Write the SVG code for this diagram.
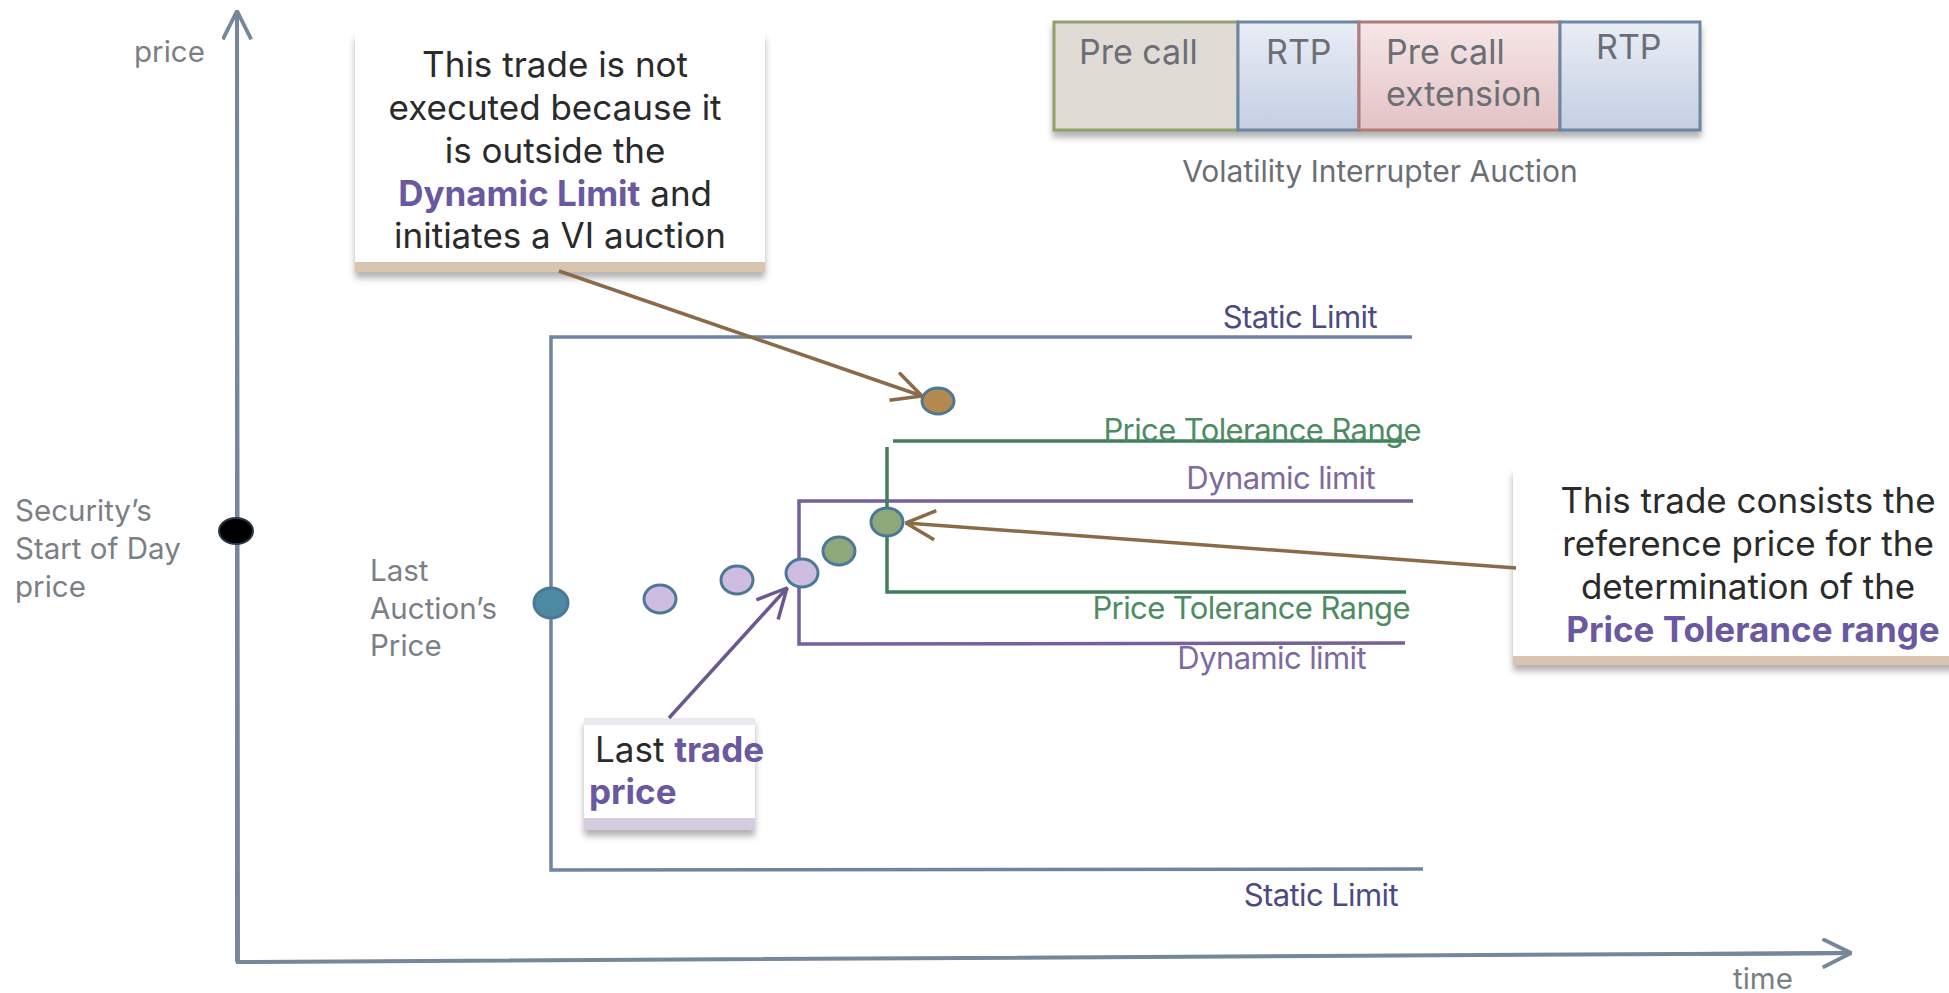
<svg xmlns="http://www.w3.org/2000/svg" width="1949" height="993" viewBox="0 0 1949 993">
<defs>
<style>
.t{font-family:Inter,"Liberation Sans",sans-serif}
.grey{fill:#7a7f86;font-size:29.5px}
.dark{fill:#2a2a2a;font-size:35px}
.bold{font-weight:700;fill:#6a58a0}
.box{font-size:34px;fill:#6b6f75}
.axis{stroke:#74879b;stroke-width:4;fill:none}
.static{stroke:#6f84a0;stroke-width:3.5;fill:none}
.dyn{stroke:#74609a;stroke-width:3.5;fill:none}
.ptr{stroke:#3f7f5b;stroke-width:3.5;fill:none}
.lblStatic{fill:#4c4a84;font-size:31px;letter-spacing:-0.6px}
.lblDyn{fill:#7d6ba0;font-size:31px;letter-spacing:-0.6px}
.lblPtr{fill:#4d8c63;font-size:31px;letter-spacing:-0.6px}
.dotS{stroke:#4d7895;stroke-width:3}
</style>
<filter id="shadow" x="-10%" y="-10%" width="120%" height="130%">
<feDropShadow dx="0" dy="6" stdDeviation="3" flood-color="#555" flood-opacity="0.45"/>
</filter>
<linearGradient id="gBlue" x1="0" y1="0" x2="0" y2="1">
<stop offset="0" stop-color="#e9edf6"/><stop offset="1" stop-color="#c4cfe2"/>
</linearGradient>
<linearGradient id="gRed" x1="0" y1="0" x2="0" y2="1">
<stop offset="0" stop-color="#f6e7e7"/><stop offset="1" stop-color="#e3c2c4"/>
</linearGradient>
<marker id="axHead" viewBox="0 0 12 12" refX="11.5" refY="6" markerWidth="31" markerHeight="31" markerUnits="userSpaceOnUse" orient="auto">
<path d="M0.5,0.5 L11.5,6 L0.5,11.5" fill="none" stroke="#74879b" stroke-width="1.5"/>
</marker>
<marker id="brHead" viewBox="0 0 12 12" refX="11.5" refY="6" markerWidth="32" markerHeight="32" markerUnits="userSpaceOnUse" orient="auto">
<path d="M0.5,0.5 L11.5,6 L0.5,11.5" fill="none" stroke="#8b6a47" stroke-width="1.3"/>
</marker>
<marker id="puHead" viewBox="0 0 12 12" refX="11.5" refY="6" markerWidth="32" markerHeight="32" markerUnits="userSpaceOnUse" orient="auto">
<path d="M0.5,0.5 L11.5,6 L0.5,11.5" fill="none" stroke="#6b5890" stroke-width="1.3"/>
</marker>
</defs>
<rect width="1949" height="993" fill="#ffffff"/>

<g id="axes">
<path class="axis" d="M237,12 L238,962 L1852,953"/>
<path class="axis" d="M237,962 L237,11" marker-end="url(#axHead)"/>
<path class="axis" d="M1700,954 L1851,953" marker-end="url(#axHead)"/>
<text class="t grey" x="134" y="62">price</text>
<text class="t grey" x="1733" y="989">time</text>
</g>

<g id="limits">
<path class="static" d="M1412,337 L551,337 L551,870 L1423,869"/>
<text class="t lblStatic" x="1377" y="328" text-anchor="end">Static Limit</text>
<text class="t lblStatic" x="1398" y="906" text-anchor="end">Static Limit</text>
<path class="dyn" d="M1413,501 L799,501 L799,644 L1405,643"/>
<text class="t lblDyn" x="1375" y="489" text-anchor="end">Dynamic limit</text>
<text class="t lblDyn" x="1366" y="669" text-anchor="end">Dynamic limit</text>
<path class="ptr" d="M893,441 L1406,441"/>
<path class="ptr" d="M887,447 L887,592 L1406,592"/>
<text class="t lblPtr" x="1421" y="441" text-anchor="end">Price Tolerance Range</text>
<text class="t lblPtr" x="1410" y="619" text-anchor="end">Price Tolerance Range</text>
</g>

<g id="vi-auction">
<g filter="url(#shadow)">
<rect x="1054" y="22" width="184" height="108" fill="#e0dbd5" stroke="#8fa06a" stroke-width="3"/>
<rect x="1238" y="22" width="121" height="108" fill="url(#gBlue)" stroke="#6c86a4" stroke-width="3"/>
<rect x="1359" y="22" width="201" height="108" fill="url(#gRed)" stroke="#b07b79" stroke-width="3"/>
<rect x="1560" y="22" width="140" height="108" fill="url(#gBlue)" stroke="#6c86a4" stroke-width="3"/>
</g>
<text class="t box" x="1079" y="64">Pre call</text>
<text class="t box" x="1266" y="64">RTP</text>
<text class="t box" x="1386" y="64">Pre call</text>
<text class="t box" x="1386" y="106">extension</text>
<text class="t box" x="1596" y="59">RTP</text>
<text class="t" x="1380" y="182" text-anchor="middle" style="fill:#6b6f75;font-size:30px">Volatility Interrupter Auction</text>
</g>

<g id="node-start-of-day">
<ellipse cx="236" cy="531" rx="17" ry="13" fill="#000" stroke="#2b3a4a" stroke-width="2"/>
<text class="t grey" x="15"><tspan x="15" y="521">Security’s</tspan><tspan x="15" y="559">Start of Day</tspan><tspan x="15" y="597">price</tspan></text>
</g>

<g id="node-last-auction">
<ellipse class="dotS" cx="551" cy="603" rx="17" ry="15" fill="#4b8aa1"/>
<text class="t grey" x="370"><tspan x="370" y="581">Last</tspan><tspan x="370" y="619">Auction’s</tspan><tspan x="370" y="656">Price</tspan></text>
</g>

<g id="node-trade-1"><ellipse class="dotS" cx="660" cy="599" rx="16" ry="14" fill="#cebde0"/></g>
<g id="node-trade-2"><ellipse class="dotS" cx="737" cy="580" rx="16" ry="14" fill="#cebde0"/></g>
<g id="node-trade-3"><ellipse class="dotS" cx="802" cy="573" rx="16" ry="14" fill="#cebde0"/></g>
<g id="node-trade-4"><ellipse class="dotS" cx="839" cy="551" rx="16" ry="14" fill="#8fa87a"/></g>
<g id="node-trade-ref"><ellipse class="dotS" cx="887" cy="522" rx="16" ry="14" fill="#8fa87a"/></g>
<g id="node-trade-out"><ellipse class="dotS" cx="938" cy="401" rx="16" ry="13" fill="#b3894f"/></g>

<g id="callout-not-executed">
<g filter="url(#shadow)">
<rect x="355" y="33" width="410" height="232" fill="#ffffff"/>
<rect x="355" y="262" width="410" height="10" fill="#d9c4b0"/>
</g>
<text class="t dark" text-anchor="middle">
<tspan x="560" y="77">This trade is not</tspan>
<tspan x="560" y="120">executed because it</tspan>
<tspan x="560" y="163">is outside the</tspan>
<tspan x="560" y="206"><tspan class="bold">Dynamic Limit</tspan> and</tspan>
<tspan x="560" y="248">initiates a VI auction</tspan>
</text>
</g>

<g id="callout-reference">
<g filter="url(#shadow)">
<rect x="1513" y="468" width="445" height="190" fill="#ffffff"/>
<rect x="1513" y="656" width="445" height="9" fill="#d9c4b0"/>
</g>
<text class="t dark" text-anchor="middle">
<tspan x="1753" y="513">This trade consists the</tspan>
<tspan x="1753" y="556">reference price for the</tspan>
<tspan x="1753" y="599">determination of the</tspan>
<tspan x="1753" y="642" class="bold">Price Tolerance range</tspan>
</text>
</g>

<g id="callout-last-trade">
<g filter="url(#shadow)">
<rect x="584" y="718" width="171" height="112" fill="#ffffff"/>
<rect x="584" y="818" width="171" height="12" fill="#d3cddd"/>
</g>
<rect x="584" y="718" width="171" height="7" fill="#ebe8f0"/>
<text class="t dark" style="font-size:35px"><tspan x="595" y="762">Last <tspan class="bold">trade</tspan></tspan><tspan x="589" y="804" class="bold">price</tspan></text>
</g>

<g id="connectors">
<path d="M559,271 L922,396" fill="none" stroke="#8b6a47" stroke-width="3.5" marker-end="url(#brHead)"/>
<path d="M1516,568 L906,523" fill="none" stroke="#8b6a47" stroke-width="3.5" marker-end="url(#brHead)"/>
<path d="M669,718 L787,588" fill="none" stroke="#6b5890" stroke-width="3.5" marker-end="url(#puHead)"/>
</g>
</svg>
